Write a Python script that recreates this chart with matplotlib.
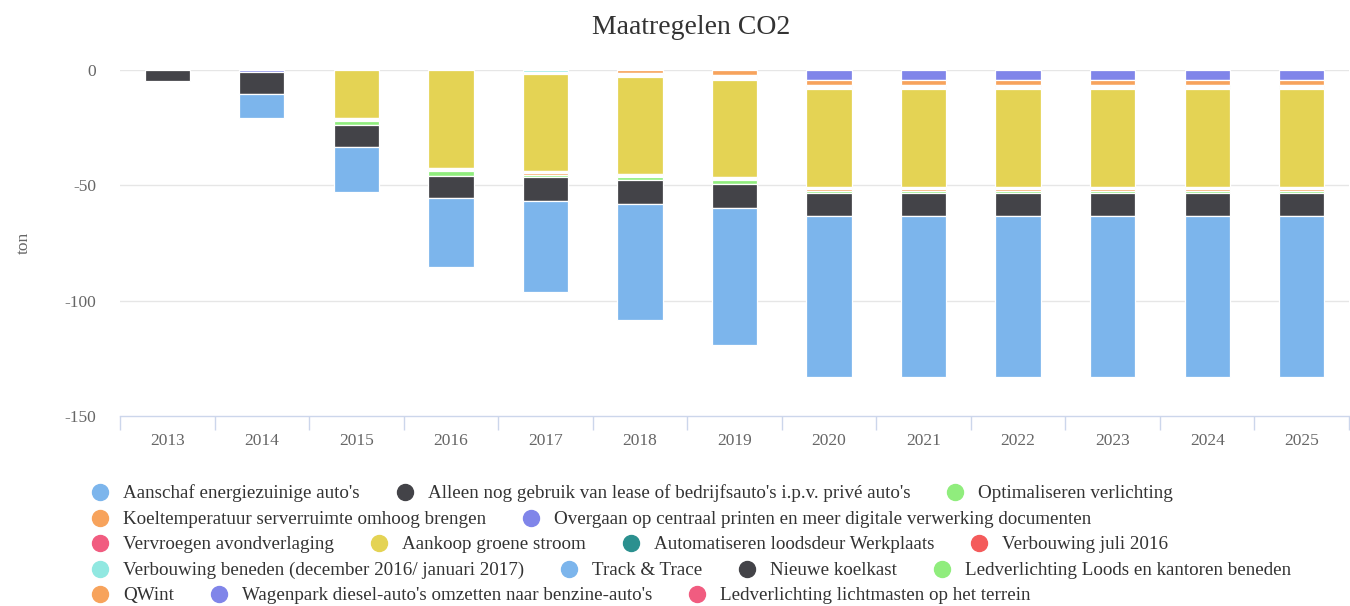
import numpy as np
import matplotlib.pyplot as plt
from matplotlib.lines import Line2D

plt.rcParams['font.family'] = ['Liberation Serif', 'DejaVu Serif']

jaren = ['2013', '2014', '2015', '2016', '2017', '2018', '2019',
         '2020', '2021', '2022', '2023', '2024', '2025']

# besparing per maatregel (ton CO2), wordt negatief gestapeld
aanschaf_autos = [0, 10.1, 19.6, 29.8, 39.6, 49.9, 59.4, 69.9, 69.9, 69.9, 69.9, 69.9, 69.9]
lease_autos = [4.6, 9.7, 9.7, 9.7, 10.4, 10.4, 10.3, 9.7, 9.7, 9.7, 9.7, 9.7, 9.7]
optimaliseren_verlichting = [0, 0, 1.4, 2.0, 1.1, 1.3, 1.6, 1.2, 1.2, 1.2, 1.2, 1.2, 1.2]
koeltemperatuur = [0, 0, 0.5, 0.5, 0.55, 0.5, 0.5, 0.53, 0.53, 0.53, 0.53, 0.53, 0.53]
centraal_printen = [0, 0.8, 0.5, 0.5, 0.55, 0.5, 0.5, 0.53, 0.53, 0.53, 0.53, 0.53, 0.53]
avondverlaging = [0, 0, 0.5, 0.5, 0.55, 0.5, 0.5, 0.53, 0.53, 0.53, 0.53, 0.53, 0.53]
groene_stroom = [0, 0, 20.8, 42.4, 42.1, 42.1, 41.9, 42.3, 42.3, 42.3, 42.3, 42.3, 42.3]
loodsdeur = [0, 0, 0, 0, 0.4, 0.4, 0.46, 0.4, 0.4, 0.4, 0.4, 0.4, 0.4]
verbouwing_juli = [0, 0, 0, 0, 0.4, 0.4, 0.46, 0.4, 0.4, 0.4, 0.4, 0.4, 0.4]
verbouwing_beneden = [0, 0, 0, 0, 0.8, 0.4, 0.46, 0.4, 0.4, 0.4, 0.4, 0.4, 0.4]
track_trace = [0, 0, 0, 0, 0, 0, 0, 0, 0, 0, 0, 0, 0]
koelkast = [0, 0, 0, 0, 0, 0, 0.46, 0.4, 0.4, 0.4, 0.4, 0.4, 0.4]
ledverlichting_loods = [0, 0, 0, 0, 0, 0.4, 0.46, 0.4, 0.4, 0.4, 0.4, 0.4, 0.4]
qwint = [0, 0, 0, 0, 0, 1.4, 2.2, 2.0, 2.0, 2.0, 2.0, 2.0, 2.0]
wagenpark = [0, 0, 0, 0, 0, 0, 0, 4.4, 4.4, 4.4, 4.4, 4.4, 4.4]
lichtmasten = [0, 0, 0, 0, 0, 0, 0, 0, 0, 0, 0, 0, 0]

namen = ["Aanschaf energiezuinige auto's",
         "Alleen nog gebruik van lease of bedrijfsauto's i.p.v. privé auto's",
         "Optimaliseren verlichting",
         "Koeltemperatuur serverruimte omhoog brengen",
         "Overgaan op centraal printen en meer digitale verwerking documenten",
         "Vervroegen avondverlaging",
         "Aankoop groene stroom",
         "Automatiseren loodsdeur Werkplaats",
         "Verbouwing juli 2016",
         "Verbouwing beneden (december 2016/ januari 2017)",
         "Track & Trace",
         "Nieuwe koelkast",
         "Ledverlichting Loods en kantoren beneden",
         "QWint",
         "Wagenpark diesel-auto's omzetten naar benzine-auto's",
         "Ledverlichting lichtmasten op het terrein"]
reeksen = [aanschaf_autos, lease_autos, optimaliseren_verlichting, koeltemperatuur,
           centraal_printen, avondverlaging, groene_stroom, loodsdeur, verbouwing_juli,
           verbouwing_beneden, track_trace, koelkast, ledverlichting_loods, qwint,
           wagenpark, lichtmasten]
palet = ['#7cb5ec', '#434348', '#90ed7d', '#f7a35c', '#8085e9',
         '#f15c80', '#e4d354', '#2b908f', '#f45b5b', '#91e8e1']
kleuren = [palet[i % 10] for i in range(len(reeksen))]

W, H = 1350, 606
fig = plt.figure(figsize=(W / 100, H / 100), dpi=100)
ax = fig.add_axes([120 / W, 1 - 416 / H, 1229 / W, 346 / H])

x = np.arange(len(jaren))
basis = np.zeros(len(jaren))
# eerste reeks komt onderaan, dus van achter naar voren stapelen
for i in range(len(reeksen) - 1, -1, -1):
    v = np.array(reeksen[i], dtype=float)
    m = v > 0
    ax.bar(x[m], -v[m], bottom=basis[m], width=0.48, color=kleuren[i],
           edgecolor='white', linewidth=0.9, zorder=3)
    basis = basis - v

ax.set_xlim(-0.5, 12.5)
ax.set_ylim(-150, 0)
for g in [0, -50, -100]:
    ax.axhline(g, color='#e6e6e6', lw=1, zorder=1)
for s in ['top', 'right', 'left']:
    ax.spines[s].set_visible(False)
ax.spines['bottom'].set_color('#ccd6eb')
ax.spines['bottom'].set_linewidth(1)

ax.set_yticks([0, -50, -100, -150])
ax.set_yticklabels(['0', '-50', '-100', '-150'])
ax.tick_params(axis='y', length=0, pad=17, labelsize=12.5, labelcolor='#666666')
ax.set_xticks(np.arange(-0.5, 12.6, 1))
ax.set_xticklabels([])
ax.set_xticks(x, minor=True)
ax.set_xticklabels(jaren, minor=True)
ax.tick_params(axis='x', which='major', length=10, color='#ccd6eb', width=1)
ax.tick_params(axis='x', which='minor', length=0, pad=12, labelsize=12.5, labelcolor='#666666')
ax.set_ylabel('ton', color='#666666', fontsize=12.5, labelpad=24)

fig.text(691 / W, 1 - 28 / H, 'Maatregelen CO2', ha='center', va='center',
         fontsize=20, color='#333333')

# legenda, rijen zoals in het origineel
rijen = [[0, 1, 2], [3, 4], [5, 6, 7, 8], [9, 10, 11, 12], [13, 14, 15]]
rij_y = [492, 518, 543, 569, 594]
r = fig.canvas.get_renderer()
for rij, yp in zip(rijen, rij_y):
    xp = 100
    for i in rij:
        fig.add_artist(Line2D([xp / W], [1 - yp / H], marker='o', markersize=11.5,
                              color=kleuren[i], linestyle='none', transform=fig.transFigure))
        t = fig.text((xp + 23) / W, 1 - (yp + 1.5) / H, namen[i], ha='left', va='center',
                     fontsize=13.7, color='#333333')
        bb = t.get_window_extent(renderer=r)
        xp = bb.x1 + 45

fig.savefig('out.png', dpi=100)
